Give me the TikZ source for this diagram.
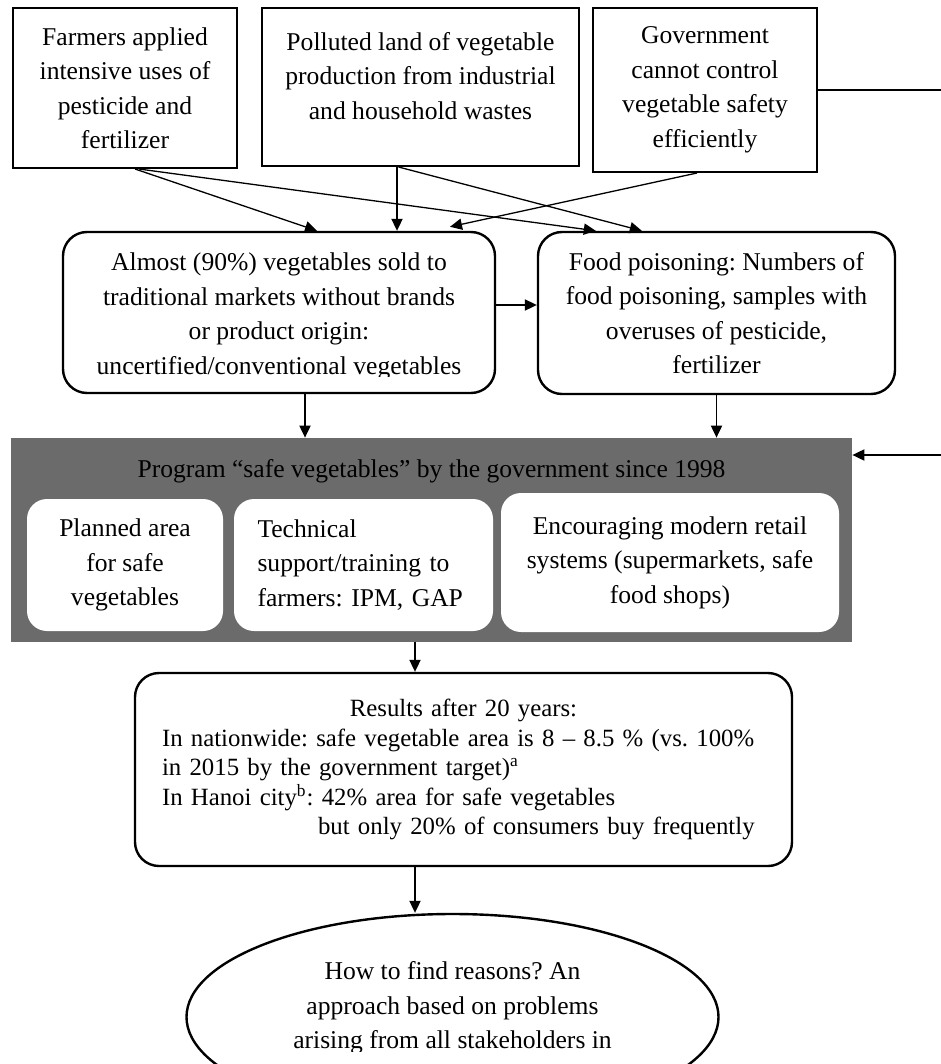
\documentclass[tikz,border=0pt]{standalone}
\usepackage{fontspec}
\setmainfont{Liberation Serif}
\usetikzlibrary{arrows.meta,shapes.geometric}
\definecolor{progray}{HTML}{6B6B6B}
\frenchspacing
\begin{document}
\begin{tikzpicture}[x=.5pt,y=-.5pt,
	>={Triangle[length=6pt,width=5.6pt]},
	every node/.style={font=\fontsize{12.8}{17.25}\selectfont},
	box/.style={draw,line width=1pt,inner sep=0pt},
	rbox/.style={draw,line width=1.2pt,rounded corners=12pt,inner sep=0pt},
	wbox/.style={fill=white,rounded corners=10pt,inner sep=0pt},
	txt/.style={align=center,inner sep=0pt},
	arr/.style={->,line width=.65pt}]
	\useasboundingbox (0,0) rectangle (941,1064);
	\node[box,minimum width=112pt,minimum height=80pt,align=center] (farm) at (125,88) {Farmers applied\\intensive uses of\\pesticide and\\fertilizer};
	\node[box,minimum width=158.5pt,minimum height=79pt] (land) at (420.5,87) {};
	\node[txt] (landtxt) at (420.5,76) {Polluted land of vegetable\\production from industrial\\and household wastes};
	\node[box,minimum width=112pt,minimum height=82pt,align=center] (gov) at (705,90) {Government\\cannot control\\vegetable safety\\efficiently};
	\node[rbox,minimum width=216pt,minimum height=80.5pt] (market) at (279,312.5) {};
	\begin{scope}
		\clip (63,232) rectangle (495,376);
		\node[txt] (markettxt) at (279,316.5) {Almost (90\%) vegetables sold to\\traditional markets without brands\\or product origin:\\uncertified/conventional vegetables};
	\end{scope}
	\node[rbox,minimum width=178.5pt,minimum height=81pt,align=center] (poison) at (716.5,313) {Food poisoning: Numbers of\\food poisoning, samples with\\overuses of pesticide,\\fertilizer};
	\node[fill=progray,minimum width=420.5pt,minimum height=102pt,inner sep=0pt] (prog) at (431.5,540) {};
	\node[txt] (progtitle) at (431.5,471) {Program “safe vegetables” by the government since 1998};
	\node[wbox,minimum width=98pt,minimum height=66pt,align=center] (area) at (125,565) {Planned area\\for safe\\vegetables};
	\node[wbox,minimum width=129.5pt,minimum height=66pt,text width=106pt,inner xsep=11.75pt,align=left] (tech) at (363.5,565) {Technical\\support/training to\\farmers: IPM, GAP};
	\node[wbox,minimum width=169pt,minimum height=69.5pt,align=center] (retail) at (670,562.5) {Encouraging modern retail\\systems (supermarkets, safe\\food shops)};
	\node[rbox,minimum width=328.5pt,minimum height=96.5pt,text width=301.5pt,inner xsep=13.5pt,align=left,font=\fontsize{12.4}{14.75}\selectfont] (result) at (463.5,769.5) {\makebox[\hsize]{Results after 20 years:}\\\mbox{In nationwide: safe vegetable area is 8 – 8.5 \% (vs. 100\%}\\in 2015 by the government target)\textsuperscript{a}\\In Hanoi city\textsuperscript{b}: 42\% area for safe vegetables\\\hspace*{78pt}\mbox{but only 20\% of consumers buy frequently}};
	\node[ellipse,draw,line width=1.2pt,minimum width=266pt,minimum height=103pt,inner sep=0pt] (reason) at (452.5,1017) {};
	\begin{scope}
		\clip (150,900) rectangle (760,1051);
		\node[txt] (reasontxt) at (452.5,1008) {How to find reasons? An\\approach based on problems\\arising from all stakeholders in};
	\end{scope}
	\coordinate (rim1) at (941,89);
	\coordinate (rim2) at (941,455);
	\draw[arr] ([xshift=5pt]farm.south) -- ([xshift=19pt]market.north);
	\draw[arr] ([xshift=7pt]farm.south) -- ([xshift=29.5pt]poison.north west);
	\draw[arr] ([xshift=-11.75pt]land.south) -- ([xshift=-11.75pt]land.south |- market.north);
	\draw[arr] ([xshift=-11pt]land.south) -- ([xshift=52.5pt]poison.north west);
	\draw[arr] ([xshift=-4pt]gov.south) -- ([xshift=85.5pt,yshift=2pt]market.north);
	\draw[line width=.65pt] (gov.east) -- (gov.east -| rim1);
	\draw[arr] (rim2) -- (rim2 -| prog.east);
	\draw[arr] ([yshift=3.75pt]market.east) -- ([yshift=3.75pt]market.east -| poison.west);
	\draw[arr] ([xshift=13pt]market.south) -- ([xshift=13pt]market.south |- prog.north);
	\draw[arr] (poison.south) -- (poison.south |- prog.north);
	\draw[arr] ([xshift=-8.25pt]prog.south) -- ([xshift=-8.25pt]prog.south |- result.north);
	\draw[arr] ([xshift=-24.25pt]result.south) -- ([xshift=-24.25pt]result.south |- reason.north);
\end{tikzpicture}
\end{document}
